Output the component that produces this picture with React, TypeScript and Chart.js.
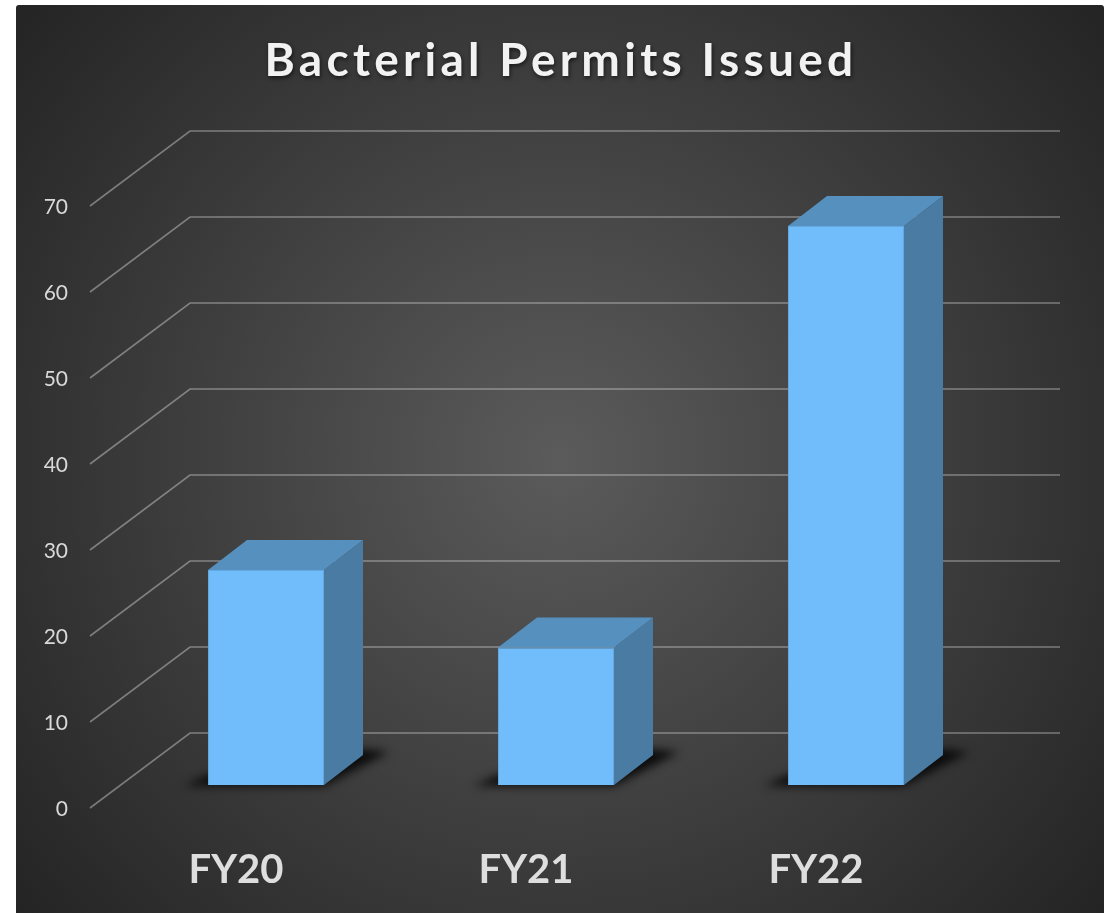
import React, { useEffect, useRef } from "react";
import { Chart, registerables } from "chart.js";

Chart.register(...registerables);

const categories = ["FY20", "FY21", "FY22"];
const permits = [25, 16, 65];
const yTicks = [0, 10, 20, 30, 40, 50, 60, 70];
const titleText = "Bacterial Permits Issued";

const FONT = "Lato, Carlito, 'Noto Sans', sans-serif";
const DEPTH_X = 39;
const DEPTH_Y = 30;

const poly = (ctx: CanvasRenderingContext2D, pts: number[][], fill: string) => {
  ctx.beginPath();
  pts.forEach(([x, y], i) => (i ? ctx.lineTo(x, y) : ctx.moveTo(x, y)));
  ctx.closePath();
  ctx.fillStyle = fill;
  ctx.fill();
};

const backdrop = {
  id: "backdrop",
  beforeDraw(chart: any) {
    const { ctx, width, height } = chart;
    ctx.save();
    ctx.fillStyle = "#ffffff";
    ctx.fillRect(0, 0, width, height);
    const g = ctx.createRadialGradient(560, 459, 0, 560, 459, 720);
    g.addColorStop(0, "#5b5b5b");
    g.addColorStop(0.55, "#3c3c3c");
    g.addColorStop(1, "#232323");
    ctx.fillStyle = g;
    ctx.beginPath();
    ctx.roundRect(16, 5, 1088, 920, 3);
    ctx.fill();
    ctx.restore();
  },
};

const titleStyle = {
  id: "titleStyle",
  afterLayout(chart: any) {
    const t = chart.titleBlock;
    if (!t || t.__wrapped) return;
    const orig = t.draw;
    t.draw = function () {
      const ctx = chart.ctx;
      const mid = (t.left + t.right) / 2;
      ctx.save();
      ctx.translate(561 - mid, 2);
      (ctx as any).letterSpacing = "4.3px";
      ctx.shadowColor = "rgba(0,0,0,0.6)";
      ctx.shadowBlur = 4;
      ctx.shadowOffsetX = 1;
      ctx.shadowOffsetY = 2;
      orig.call(t);
      (ctx as any).letterSpacing = "0px";
      ctx.restore();
    };
    t.__wrapped = true;
  },
};

const perspective = {
  id: "perspective",
  beforeDatasetsDraw(chart: any) {
    const { ctx, chartArea, scales } = chart;
    const y = scales.y;
    const backX0 = chartArea.left + 69;
    const backX1 = chartArea.right + 69;
    const frontX = chartArea.left - 31;
    ctx.save();
    ctx.strokeStyle = "rgba(255,255,255,0.36)";
    ctx.lineWidth = 1.6;
    yTicks.forEach((v) => {
      const p = y.getPixelForValue(v);
      ctx.beginPath();
      ctx.moveTo(frontX, p + 23);
      ctx.lineTo(backX0, p - 52);
      ctx.lineTo(backX1, p - 52);
      ctx.stroke();
    });
    const meta = chart.getDatasetMeta(0);
    meta.data.forEach((bar: any) => {
      const l = bar.x - bar.width / 2;
      const r = bar.x + bar.width / 2;
      const b = bar.base;
      // floor shadow
      ctx.save();
      (ctx as any).filter = "blur(5px)";
      poly(
        ctx,
        [
          [l - 24, b + 1],
          [r, b + 1],
          [r + DEPTH_X + 26, b - 33],
          [r + DEPTH_X, b - 36],
          [l, b - 10],
        ],
        "rgba(8,8,8,0.95)"
      );
      ctx.restore();
      const t = bar.y;
      // side face
      poly(
        ctx,
        [
          [r, t],
          [r + DEPTH_X, t - DEPTH_Y],
          [r + DEPTH_X, b - DEPTH_Y],
          [r, b],
        ],
        "#4a7ba2"
      );
      // top face
      poly(
        ctx,
        [
          [l, t],
          [l + DEPTH_X, t - DEPTH_Y],
          [r + DEPTH_X, t - DEPTH_Y],
          [r, t],
        ],
        "#5590be"
      );
    });
    ctx.restore();
  },
};

export default function App() {
  const ref = useRef<HTMLCanvasElement>(null);
  useEffect(() => {
    const chart = new Chart(ref.current as HTMLCanvasElement, {
      type: "bar",
      data: {
        labels: categories,
        datasets: [
          {
            label: "Bacterial Permits",
            data: permits,
            backgroundColor: "#71bcfa",
            borderColor: "#63a9e0",
            borderWidth: 1,
            barPercentage: 0.4,
            categoryPercentage: 1,
          },
        ],
      },
      options: {
        responsive: false,
        animation: false,
        layout: { padding: { left: 0, right: 118, top: 0, bottom: 0 } },
        plugins: {
          legend: { display: false },
          tooltip: { enabled: false },
          title: {
            display: true,
            text: titleText,
            color: "#f2f2f2",
            font: { family: FONT, size: 46, weight: "bold", lineHeight: 1.2 },
            padding: { top: 32, bottom: 95.8 },
          },
        },
        scales: {
          x: {
            grid: { display: false },
            border: { display: false },
            afterFit: (s: any) => {
              s.height = 128;
            },
            ticks: {
              color: "#dedede",
              font: { family: FONT, size: 40, weight: "bold" },
              maxRotation: 0,
              autoSkip: false,
              labelOffset: -30,
              padding: 53,
            },
          },
          y: {
            min: 0,
            max: 70,
            grid: { display: false },
            border: { display: false },
            afterFit: (s: any) => {
              s.width = 121;
            },
            ticks: {
              color: "#d9d9d9",
              font: { family: FONT, size: 21 },
              stepSize: 10,
              labelOffset: 24,
              padding: 45,
            },
          },
        },
      },
      plugins: [backdrop, titleStyle, perspective],
    } as any);
    return () => chart.destroy();
  }, []);
  return (
    <div style={{ position: "absolute", left: 0, top: 0, width: 1109, height: 913 }}>
      <canvas ref={ref} width={1109} height={913} style={{ display: "block" }} />
    </div>
  );
}
